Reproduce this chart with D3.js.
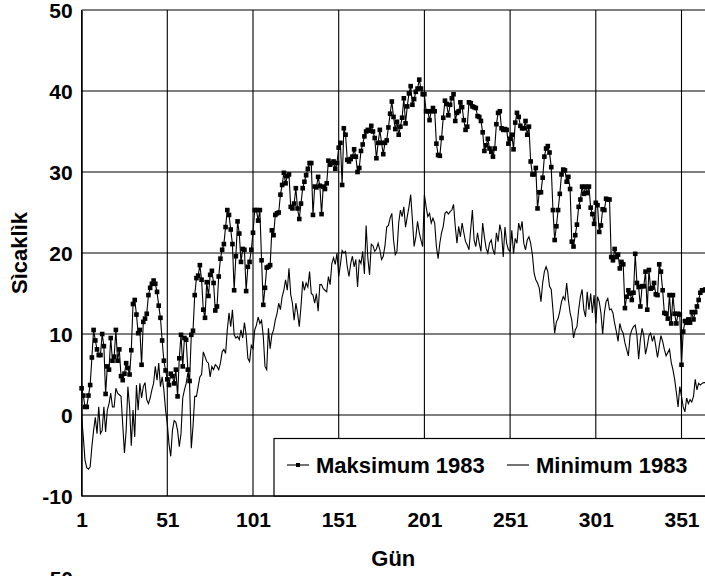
<!DOCTYPE html>
<html>
<head>
<meta charset="utf-8">
<script src="https://cdn.jsdelivr.net/npm/d3@7"></script>
<style>
  html, body { margin: 0; padding: 0; background: #fff; overflow: hidden; }
  svg text { font-family: "Liberation Sans", Arial, sans-serif; font-weight: bold; fill: #000; }
</style>
</head>
<body>
<svg id="chart" width="705" height="576"></svg>
<script>
// ---- data ----
const seriesNames = ["Maksimum 1983", "Minimum 1983"];
const xTickValues = [1, 51, 101, 151, 201, 251, 301, 351];
const yTickValues = [-10, 0, 10, 20, 30, 40, 50];
const xTitle = "Gün";
const yTitle = "Sìcaklìk";

const maxTemp = [
  3.3, 2.4, 1.0, 1.0, 2.4, 3.7, 7.1, 10.5, 9.2, 8.1,
  7.4, 7.4, 10.0, 8.5, 2.6, 6.0, 5.6, 9.5, 6.7, 7.2,
  10.5, 6.7, 8.1, 4.8, 4.3, 5.1, 6.4, 5.8, 5.0, 8.0,
  13.7, 14.2, 12.4, 10.1, 10.5, 6.2, 11.5, 11.9, 12.5, 14.8,
  15.7, 16.2, 16.6, 16.2, 15.2, 13.5, 12.0, 9.2, 6.7, 5.5,
  4.4, 3.7, 5.1, 4.8, 3.9, 5.6, 2.3, 7.0, 9.9,
  6.0, 9.5, 9.3, 5.6, 4.2, 9.9, 10.4, 14.8, 16.9, 17.2,
  18.5, 16.7, 13.0, 12.0, 16.4, 14.7, 17.3, 17.8, 16.3, 12.9,
  13.4, 17.1, 19.3, 20.4, 21.1, 23.2, 25.3, 24.7, 22.9, 21.1,
  15.4, 19.6, 23.9, 22.4, 18.9, 20.5, 20.4, 15.3, 18.3, 18.9,
  20.4, 22.5, 25.3, 25.3, 24.0, 25.3, 19.1, 13.6, 15.7, 18.2,
  18.3, 18.5, 22.8, 22.2, 24.7, 24.9, 25.0, 27.2, 28.4, 29.9,
  28.6, 29.5, 29.7, 25.7,
  25.5, 26.1, 28.0, 25.5, 24.2, 26.1, 28.0, 28.8, 29.6, 30.4,
  31.1, 31.1, 24.7, 28.2, 28.1, 29.4, 28.3, 24.8, 28.2, 27.9,
  28.6, 31.4, 30.9, 31.1, 31.3, 30.4, 31.1, 33.0, 33.6, 28.4,
  35.4, 34.6, 31.5, 31.3, 31.6, 31.9, 32.8, 31.9, 30.0, 30.5,
  32.6, 33.4, 34.4, 35.0, 35.2, 35.1, 35.7, 35.0, 34.2, 31.7,
  33.6, 35.2, 33.6, 32.2, 33.6, 33.9, 35.5, 37.2, 38.7, 36.8,
  35.3, 36.2, 34.6,
  35.6, 36.7, 39.1, 36.0, 38.1, 39.7, 40.6, 38.3, 39.0, 39.9,
  40.3, 41.4, 40.3, 39.6, 39.6, 37.5, 37.5, 36.4, 37.5, 37.9,
  37.5, 33.5, 32.1, 32.0, 34.2, 36.7, 38.8, 38.4, 37.0, 38.3,
  39.1, 39.6, 36.3, 37.3, 37.5, 38.6, 38.0, 36.4, 35.2, 35.6,
  38.6, 38.5, 38.1, 38.0, 37.9, 36.9, 36.8, 36.3, 34.9, 32.6,
  33.3, 34.1, 32.9, 32.5, 31.9, 32.9, 35.9, 37.3, 37.5, 35.4,
  35.2, 35.3, 35.2, 33.5, 34.1, 34.6, 32.8, 36.1, 37.3, 36.8,
  35.7, 35.4, 35.4, 36.3, 34.6, 35.6, 31.3, 29.7, 29.7, 30.5,
  25.5, 27.5, 27.5, 29.3, 31.9, 32.9, 33.2, 32.4, 30.6, 25.3,
  21.6, 23.3, 25.3, 27.3, 29.7, 30.3, 30.2, 28.8, 29.4, 27.9,
  21.4, 20.8, 22.2, 23.5, 25.7, 26.6, 28.2, 27.3, 28.2, 27.4,
  28.2, 25.6, 24.8, 23.6, 26.2, 25.9, 22.6, 23.4, 25.4, 25.3,
  26.7,
  26.6, 26.6, 19.5, 19.1, 20.5, 19.5, 19.8, 18.1, 18.9, 18.6,
  13.2, 14.6, 15.4, 15.0, 14.2, 15.1, 19.9, 16.3, 15.8, 13.4,
  15.9, 15.9, 17.7, 13.0, 17.9, 15.6, 15.7, 16.3, 14.9, 14.8,
  18.6, 17.7, 15.4, 12.6, 12.5, 11.9, 14.8, 11.3, 14.8, 12.5,
  11.3, 12.5, 12.4, 6.2, 10.3, 11.6, 11.4, 11.8, 11.4, 12.7,
  11.8, 12.7, 13.4, 14.2, 15.1, 15.4, 15.4, 15.5
];

const minTemp = [
  -0.2, -2.7, -5.6, -6.5, -6.7, -6.4, -3.9, -1.9, -0.3, -2.3,
  1.0, -2.3, -1.9, 1.0, -2.1, 0.6, 1.4, 2.7, 1.0, 1.0,
  3.3, 2.7, 2.5, 2.3, -1.2, -4.7, -1.9, 3.5, 1.0, -3.8,
  0.6, -2.7, 3.7, 0.6, 3.9, 2.1, 3.5, 4.0, 1.9, 1.4,
  2.1, 3.1, 3.9, 6.0, 4.3, 6.4, 3.5, 4.7, 3.1, 0.6,
  -1.1, -3.6, -5.1, -1.9, -0.7, -0.9, -1.9, -3.9, -2.3,
  2.1, 3.1, 3.9, 5.2, 3.9, -4.1, -1.4, 2.3, 2.3, 3.5,
  4.7, 5.0, 7.8, 7.2, 6.6, 6.4, 4.7, 6.0, 5.6, 6.2,
  6.0, 5.6, 6.4, 7.8, 8.1, 7.6, 10.5, 12.6, 10.9, 13.0,
  9.9, 9.5, 9.7, 9.3, 10.5, 9.5, 11.4, 9.9, 7.0, 6.6,
  8.6, 8.2, 10.5, 11.1, 12.1, 11.3, 11.7, 9.7, 6.0, 5.6,
  10.7, 8.2, 9.9, 10.5, 11.7, 12.5, 13.8, 13.0, 14.6, 15.4,
  16.7, 15.4, 18.1, 14.9,
  13.8, 11.7, 13.8, 12.6, 10.9, 13.4, 16.5, 15.4, 16.3, 15.8,
  17.7, 15.0, 14.8, 13.8, 15.0, 12.8, 16.1, 16.1, 15.6, 15.4,
  15.2, 17.1, 16.1, 18.7, 19.4, 18.6, 20.0, 17.1, 18.6, 20.3,
  20.0, 20.2, 18.3, 17.1, 18.7, 19.6, 18.3, 19.2, 15.8, 19.2,
  18.7, 20.2, 17.4, 23.4, 19.4, 17.3, 21.1, 20.9, 20.2, 20.5,
  21.2, 20.4, 19.2, 19.6, 20.9, 23.2, 23.4, 24.3, 24.9, 21.6,
  19.8, 20.2,
  23.7, 25.3, 24.5, 25.7, 23.2, 24.5, 25.7, 27.2, 24.1, 20.8,
  22.0, 23.9, 22.5, 21.6, 20.8, 27.2, 25.7, 24.5, 24.9, 23.7,
  24.3, 23.7, 20.8, 19.3, 21.2, 22.5, 23.3, 24.9, 25.1, 24.8,
  25.1, 25.3, 26.0, 23.3, 21.2, 23.3, 22.0, 23.7, 22.5, 21.4,
  21.0, 20.4, 22.9, 25.3, 21.6, 20.8, 22.5, 21.2, 20.2, 23.7,
  22.0, 20.6, 20.0, 21.2, 21.6, 20.4, 19.8, 22.5, 21.4, 23.5,
  22.5,
  19.5, 23.2, 21.2, 20.4, 20.2, 22.8, 19.9, 21.8, 21.2, 23.7,
  22.8, 23.9, 21.2, 20.4, 21.6, 22.0, 21.2, 19.8, 17.5, 16.7,
  16.3, 15.7, 14.0, 16.3, 17.7, 18.3, 17.7, 15.9, 15.5, 13.0,
  10.1, 11.5, 11.9, 12.8, 14.0, 14.6, 14.2, 16.3, 14.2, 12.6,
  11.7, 9.5, 10.5, 10.9, 13.0, 14.6, 15.5, 13.0, 12.1, 15.2,
  13.0, 15.0, 12.6, 14.8, 11.3, 14.6, 14.0, 12.6, 10.0, 12.6,
  14.0, 14.4,
  13.0, 13.1, 12.6, 11.3, 10.3, 9.1, 11.3, 10.5, 10.1, 8.9,
  8.1, 7.3, 9.8, 10.5, 10.9, 11.1, 9.8, 6.9, 9.3, 10.7,
  9.8, 7.5, 8.5, 9.8, 10.1, 9.1, 9.8, 8.5, 7.1, 8.5,
  9.8, 9.1, 8.1, 7.3, 7.7, 8.1, 6.5, 5.6, 4.4, 2.8,
  1.0, 3.5, 2.3, 1.0, 0.4, 2.1, 1.4, 1.9, 1.6, 2.3,
  4.4, 3.1, 3.9, 3.7, 3.9, 4.0, 4.0
];

const days = d3.range(1, maxTemp.length + 1);

// ---- layout ----
const svg = d3.select("#chart");
const x = d3.scaleLinear().domain([1, 365]).range([81.6, 81.6 + 364 * 1.714]);
const y = d3.scaleLinear().domain([-10, 50]).range([496, 10]);
const plotRight = 705;
const TICKFONT = 21;
const FONT = 22;

// gridlines
const gH = svg.append("g");
yTickValues.forEach(v => {
  gH.append("line").attr("x1", x(1)).attr("x2", plotRight + 5)
    .attr("y1", y(v)).attr("y2", y(v))
    .attr("stroke", "#000").attr("stroke-width", 1.1);
});
xTickValues.forEach(v => {
  gH.append("line").attr("x1", x(v)).attr("x2", x(v))
    .attr("y1", y(50)).attr("y2", y(-10))
    .attr("stroke", "#000").attr("stroke-width", 1.1);
});

// axes (labels via d3 axes)
const yAxis = d3.axisLeft(y).tickValues(yTickValues).tickSize(0).tickPadding(9)
  .tickFormat(d => String(d));
const gy = svg.append("g").attr("transform", `translate(${x(1)},0)`).call(yAxis);
gy.select(".domain").attr("stroke", "#000").attr("stroke-width", 1.2);
gy.selectAll("text").style("font-size", TICKFONT + "px").attr("dy", "0.36em");

const xAxis = d3.axisBottom(x).tickValues(xTickValues).tickSize(0).tickPadding(16)
  .tickFormat(d => String(d));
const gx = svg.append("g").attr("transform", `translate(0,${y(-10)})`).call(xAxis);
gx.select(".domain").remove();
gx.selectAll("text").style("font-size", TICKFONT + "px");

// lines
const lineGen = d3.line().x((d, i) => x(days[i])).y(d => y(d));
svg.append("path").datum(minTemp)
  .attr("fill", "none").attr("stroke", "#000").attr("stroke-width", 1.1)
  .attr("d", lineGen);
svg.append("path").datum(maxTemp)
  .attr("fill", "none").attr("stroke", "#000").attr("stroke-width", 1.1)
  .attr("d", lineGen);
const ms = 4.6;
svg.append("g").selectAll("rect").data(maxTemp).join("rect")
  .attr("x", (d, i) => x(days[i]) - ms / 2)
  .attr("y", d => y(d) - ms / 2)
  .attr("width", ms).attr("height", ms)
  .attr("fill", "#000");

// legend
const lg = svg.append("g");
lg.append("rect").attr("x", 274).attr("y", 438.5).attr("width", 440).attr("height", 57.5)
  .attr("fill", "#fff").attr("stroke", "#000").attr("stroke-width", 1.2);
lg.append("line").attr("x1", 287).attr("x2", 309).attr("y1", 465).attr("y2", 465)
  .attr("stroke", "#000").attr("stroke-width", 1.1);
lg.append("rect").attr("x", 298 - 2).attr("y", 465 - 2).attr("width", 4).attr("height", 4).attr("fill", "#000");
lg.append("text").attr("x", 316).attr("y", 473).style("font-size", FONT + "px").text(seriesNames[0]);
lg.append("line").attr("x1", 507).attr("x2", 529).attr("y1", 465).attr("y2", 465)
  .attr("stroke", "#000").attr("stroke-width", 1.1);
lg.append("text").attr("x", 536).attr("y", 473).style("font-size", FONT + "px").text(seriesNames[1]);

// bottom axis line above legend box
svg.append("line").attr("x1", x(1)).attr("x2", plotRight + 5).attr("y1", y(-10)).attr("y2", y(-10))
  .attr("stroke", "#000").attr("stroke-width", 1.2);

// titles
svg.append("text").attr("x", (x(1) + plotRight) / 2).attr("y", 566)
  .attr("text-anchor", "middle").style("font-size", FONT + "px").text(xTitle);
svg.append("text").attr("transform", `translate(27,${(y(50) + y(-10)) / 2}) rotate(-90)`)
  .attr("text-anchor", "middle").style("font-size", FONT + "px").text(yTitle);

// top of the next chart's label, cut off by the window edge as in the reference
svg.append("text").attr("x", 73).attr("y", 586).attr("text-anchor", "end")
  .style("font-size", TICKFONT + "px").text("50");
</script>
</body>
</html>
